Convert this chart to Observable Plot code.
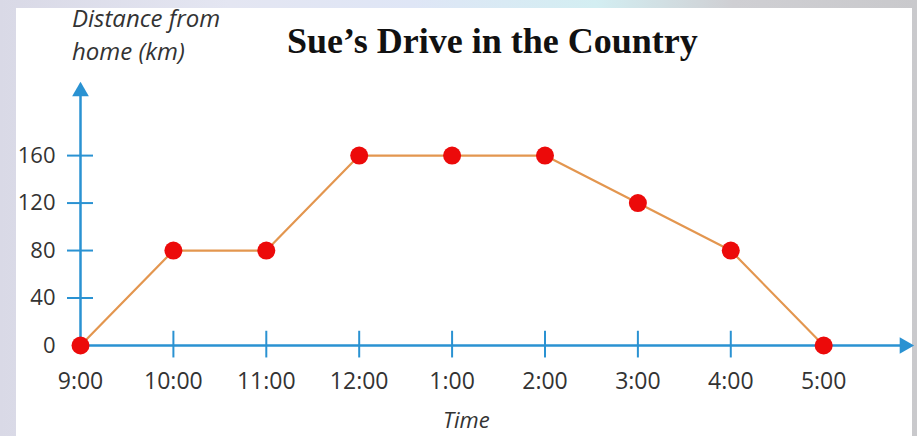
<!DOCTYPE html>
<html>
<head>
<meta charset="utf-8">
<script src="https://cdn.jsdelivr.net/npm/d3@7"></script>
<script src="https://cdn.jsdelivr.net/npm/@observablehq/plot@0.6"></script>
<style>
  html, body { margin: 0; padding: 0; }
  body {
    width: 917px; height: 436px; overflow: hidden; position: relative;
    background: linear-gradient(90deg, #d9d9e6 0%, #e4e6f2 25%, #dfe6f6 45%, #d3eef2 65%, #cfcfd3 80%, #c9c9cc 100%);
  }
  #panel { position: absolute; left: 16px; top: 8px; width: 896px; height: 428px; background: #fff; }
  #chart { position: absolute; left: 0; top: 0; }
  .lbl { position: absolute; font-family: "Open Sans", sans-serif; font-style: italic; color: #333; white-space: nowrap; }
  #title { position: absolute; left: 287px; top: 21px; font-family: "Liberation Serif", "Times New Roman", serif; font-weight: bold; font-size: 36px; line-height: 40px; color: #111; white-space: nowrap; }
</style>
</head>
<body>
<div id="panel"></div>
<div id="chart"></div>
<div id="title">Sue’s Drive in the Country</div>
<div class="lbl" style="left:72px; top:1px; font-size:24px; line-height:33px;">Distance from<br>home (km)</div>
<div class="lbl" style="left:443px; top:407px; font-size:22px; line-height:24px;">Time</div>
<script>
const hours = [9, 10, 11, 12, 13, 14, 15, 16, 17];
const tickLabels = ["9:00", "10:00", "11:00", "12:00", "1:00", "2:00", "3:00", "4:00", "5:00"];
const distance = [0, 80, 80, 160, 160, 160, 120, 80, 0];
const yTicks = [0, 40, 80, 120, 160];

const xMax = 17.87, yMax = 214;
const data = hours.map((h, i) => ({ h, d: distance[i] }));
const axisColor = "#2a92d2";

const plot = Plot.plot({
  width: 917, height: 436,
  marginLeft: 80, marginRight: 13, marginTop: 91, marginBottom: 91,
  style: { background: "transparent", fontFamily: "Open Sans, sans-serif", color: "#333" },
  x: { domain: [9, xMax], label: null },
  y: { domain: [0, yMax], label: null },
  marks: [
    Plot.axisX(hours, { tickSize: 0, tickPadding: 27, tickFormat: d => tickLabels[hours.indexOf(d)], fontSize: 23, fill: "#333" }),
    Plot.axisY(yTicks, { tickSize: 0, tickPadding: 25, fontSize: 22, fill: "#333" }),
    Plot.ruleY([0], { x1: 9, x2: xMax, stroke: axisColor, strokeWidth: 2.5 }),
    Plot.ruleX([9], { y1: 0, y2: yMax, stroke: axisColor, strokeWidth: 2.5 }),
    Plot.dot([{ x: xMax, y: 0 }], { x: "x", y: "y", symbol: "triangle", r: 6.2, rotate: 90, fill: axisColor, stroke: "none" }),
    Plot.dot([{ x: 9, y: yMax }], { x: "x", y: "y", symbol: "triangle", r: 6.2, fill: axisColor, stroke: "none" }),
    Plot.ruleX(hours.slice(1, -1), { y1: -10.5, y2: 12, stroke: axisColor, strokeWidth: 2 }),
    Plot.ruleY(yTicks.slice(1), { x1: 9 - 0.14, x2: 9 + 0.14, stroke: axisColor, strokeWidth: 2 }),
    Plot.line(data, { x: "h", y: "d", stroke: "#e3964f", strokeWidth: 2.2 }),
    Plot.dot(data, { x: "h", y: "d", r: 9, fill: "#ec0a0a", stroke: "none" })
  ]
});
document.getElementById("chart").appendChild(plot);
</script>
</body>
</html>
